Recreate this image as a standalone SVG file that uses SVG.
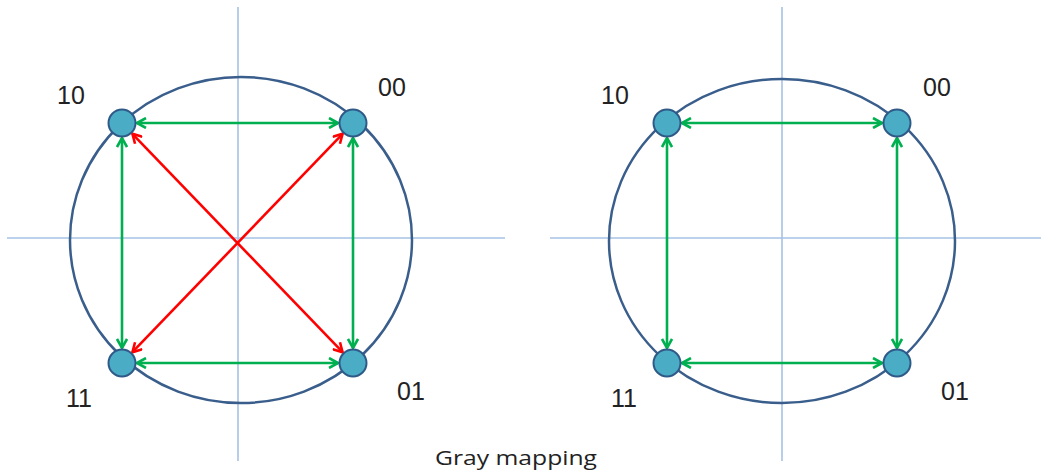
<svg xmlns="http://www.w3.org/2000/svg" width="1041" height="472" viewBox="0 0 1041 472">
<style>
.axis{stroke:#a6c2e6;stroke-width:1.6;fill:none}
.ring{stroke:#3a5e8c;stroke-width:2.5;fill:none}
.pt{fill:#4bacc6;stroke:#2f5a88;stroke-width:2}
.g{stroke:#00b050;stroke-width:2.6;fill:none;marker-start:url(#ag);marker-end:url(#ag)}
.r{stroke:#ff0000;stroke-width:2.6;fill:none;marker-start:url(#ar);marker-end:url(#ar)}
.lbl{font-family:"Liberation Sans",Arial,sans-serif;font-size:25px;fill:#222}
.cap{font-family:"Open Sans","Liberation Sans",sans-serif;font-size:20px;fill:#222}
</style>
<defs>
<marker id="ag" viewBox="0 0 12 12" refX="11" refY="6" markerWidth="12" markerHeight="12" markerUnits="userSpaceOnUse" orient="auto-start-reverse">
<path d="M2,1 L11,6 L2,11" fill="none" stroke="#00b050" stroke-width="2.6"/>
</marker>
<marker id="ar" viewBox="0 0 12 12" refX="11" refY="6" markerWidth="12" markerHeight="12" markerUnits="userSpaceOnUse" orient="auto-start-reverse">
<path d="M2,1 L11,6 L2,11" fill="none" stroke="#ff0000" stroke-width="2.6"/>
</marker>
</defs>
<rect width="1041" height="472" fill="#fff"/>
<g id="axes">
<line class="axis" x1="238" y1="7" x2="238" y2="461"/>
<line class="axis" x1="7" y1="238" x2="505" y2="238"/>
<line class="axis" x1="782" y1="7" x2="782" y2="461"/>
<line class="axis" x1="550" y1="238" x2="1041" y2="238"/>
</g>
<g id="circles">
<ellipse class="ring" cx="241" cy="240" rx="171" ry="163"/>
<ellipse class="ring" cx="782" cy="241" rx="173" ry="162"/>
</g>
<g id="connectors">
<line class="g" x1="137" y1="123" x2="338" y2="123"/>
<line class="g" x1="137" y1="363" x2="338" y2="363"/>
<line class="g" x1="122" y1="138" x2="122" y2="348"/>
<line class="g" x1="353" y1="138" x2="353" y2="348"/>
<line class="r" x1="132.4" y1="133.8" x2="342.6" y2="352.2"/>
<line class="r" x1="342.6" y1="133.8" x2="132.4" y2="352.2"/>
<line class="g" x1="682" y1="123" x2="882" y2="123"/>
<line class="g" x1="682" y1="363" x2="882" y2="363"/>
<line class="g" x1="667" y1="138" x2="667" y2="348"/>
<line class="g" x1="897" y1="138" x2="897" y2="348"/>
</g>
<g id="L10"><circle class="pt" cx="122" cy="123" r="13.5"/><text class="lbl" x="57" y="104">10</text></g>
<g id="L00"><circle class="pt" cx="353" cy="123" r="13.5"/><text class="lbl" x="378" y="96">00</text></g>
<g id="L11"><circle class="pt" cx="122" cy="363" r="13.5"/><text class="lbl" x="66" y="407">11</text></g>
<g id="L01"><circle class="pt" cx="353" cy="363" r="13.5"/><text class="lbl" x="397" y="400">01</text></g>
<g id="R10"><circle class="pt" cx="667" cy="123" r="13.5"/><text class="lbl" x="601" y="104">10</text></g>
<g id="R00"><circle class="pt" cx="897" cy="123" r="13.5"/><text class="lbl" x="923" y="96">00</text></g>
<g id="R11"><circle class="pt" cx="667" cy="363" r="13.5"/><text class="lbl" x="611" y="407">11</text></g>
<g id="R01"><circle class="pt" cx="897" cy="363" r="13.5"/><text class="lbl" x="941" y="400">01</text></g>
<text class="cap" x="435" y="465" textLength="162" lengthAdjust="spacingAndGlyphs">Gray mapping</text>
</svg>
